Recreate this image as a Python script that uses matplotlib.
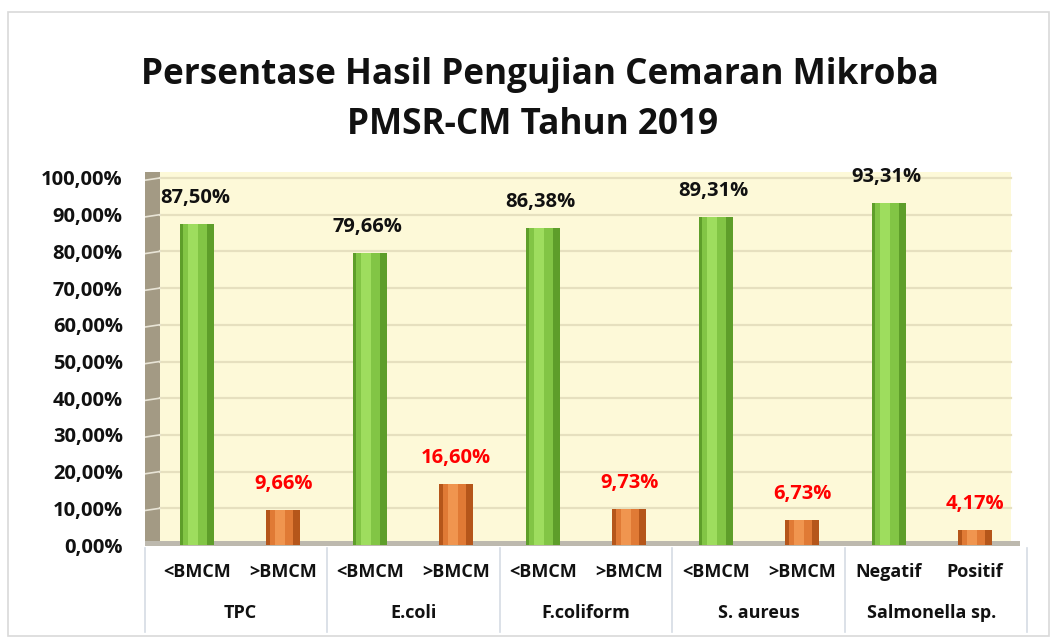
import matplotlib
matplotlib.use("Agg")
import matplotlib.pyplot as plt
from matplotlib.patches import Rectangle
from matplotlib.transforms import blended_transform_factory

plt.rcParams['font.family'] = ['Open Sans', 'DejaVu Sans']

groups = ["TPC", "E.coli", "F.coliform", "S. aureus", "Salmonella sp."]
sub_labels = ["<BMCM", ">BMCM", "<BMCM", ">BMCM", "<BMCM", ">BMCM",
              "<BMCM", ">BMCM", "Negatif", "Positif"]
good_values = [87.50, 79.66, 86.38, 89.31, 93.31]   # green bars
bad_values = [9.66, 16.60, 9.73, 6.73, 4.17]        # orange bars
good_labels = ["87,50%", "79,66%", "86,38%", "89,31%", "93,31%"]
bad_labels = ["9,66%", "16,60%", "9,73%", "6,73%", "4,17%"]
yticks = list(range(0, 101, 10))
ytick_labels = [f"{t},00%" for t in yticks]

W, H = 1055, 639
fig = plt.figure(figsize=(W / 100, H / 100), dpi=100)
fig.patch.set_facecolor("white")

# outer border
fig.add_artist(Rectangle((8 / W, 1 - 636 / H), (1049 - 8) / W, (636 - 12) / H,
                         transform=fig.transFigure, fill=False,
                         edgecolor="#D9D9D9", linewidth=1.2))

fig.text(540 / W, 1 - 75 / H, "Persentase Hasil Pengujian Cemaran Mikroba",
         ha="center", va="center", fontsize=25.3, fontweight="bold", color="#111111")
fig.text(533 / W, 1 - 125 / H, "PMSR-CM Tahun 2019",
         ha="center", va="center", fontsize=25.3, fontweight="bold", color="#111111")

left_px, right_px = 145, 1027
bottom_px, top_px = 545, 170
ax = fig.add_axes([left_px / W, 1 - bottom_px / H,
                   (right_px - left_px) / W, (bottom_px - top_px) / H])
ax.set_facecolor("none")
x0, x1 = -0.6, 9.6
ymax = 100 * (bottom_px - top_px) / (545 - 178)
ax.set_xlim(x0, x1)
ax.set_ylim(0, ymax)
for s in ax.spines.values():
    s.set_visible(False)

# back wall and side wall
wall_l, wall_r = -0.43, 9.42
ax.add_patch(Rectangle((wall_l, 0), wall_r - wall_l, ymax - 0.5,
                       facecolor="#FDF9D8", edgecolor="none", zorder=0))
ax.add_patch(Rectangle((x0, 0), wall_l - x0, ymax - 0.5,
                       facecolor="#A39A84", edgecolor="none", zorder=0.5))
for t in yticks[1:]:
    ax.plot([wall_l, wall_r], [t, t], color="#E6E0BF", lw=1.6, zorder=1)
    ax.plot([x0, wall_l], [t - 0.6, t], color="#E8E4D6", lw=1.2, zorder=1)
# floor
ax.add_patch(Rectangle((x0, -0.2), wall_r - x0 + 0.1, 1.2,
                       facecolor="#BDB9AE", edgecolor="none", zorder=1, clip_on=False))

n = len(groups)
gx = [2 * i for i in range(n)]
bx = [2 * i + 1 for i in range(n)]
bw = 0.39

def cyl(xs, vals, dark, mid, light):
    ax.bar(xs, vals, width=bw, color=dark, zorder=3)
    ax.bar([x - 0.02 for x in xs], vals, width=bw * 0.7, color=mid, zorder=4)
    ax.bar([x - 0.04 for x in xs], vals, width=bw * 0.3, color=light, zorder=5)

cyl(gx, good_values, "#5E9E2A", "#82C545", "#9EDD5E")
cyl(bx, bad_values, "#B5561A", "#E07A35", "#F0954F")

for x, v, lab in zip(gx, good_values, good_labels):
    ax.annotate(lab, (x, v), xytext=(-2, 26), textcoords="offset pixels",
                ha="center", va="center", fontsize=14.5, fontweight="bold",
                color="#111111", zorder=6)
for x, v, lab in zip(bx, bad_values, bad_labels):
    ax.annotate(lab, (x, v), xytext=(0, 26), textcoords="offset pixels",
                ha="center", va="center", fontsize=14.5, fontweight="bold",
                color="#FF0000", zorder=6)

ax.set_yticks(yticks)
ax.set_yticklabels(ytick_labels, fontsize=14.5, fontweight="bold", color="#111111")
ax.tick_params(axis="y", length=0, pad=16)
ax.set_xticks([])

trans = blended_transform_factory(ax.transData, fig.transFigure)
for i, lab in enumerate(sub_labels):
    ax.text(i, 1 - 572 / H, lab, transform=trans, ha="center", va="center",
            fontsize=13, fontweight="bold", color="#111111")
for i, g in enumerate(groups):
    ax.text(2 * i + 0.5, 1 - 613 / H, g, transform=trans, ha="center", va="center",
            fontsize=13, fontweight="bold", color="#111111")
seps = [x0, 1.5, 3.5, 5.5, 7.5, x1]
for s in seps:
    ax.plot([s, s], [1 - 548 / H, 1 - 632 / H], transform=trans, color="#D5DCE4",
            lw=1.2, clip_on=False)

fig.savefig("out.png", dpi=100)
